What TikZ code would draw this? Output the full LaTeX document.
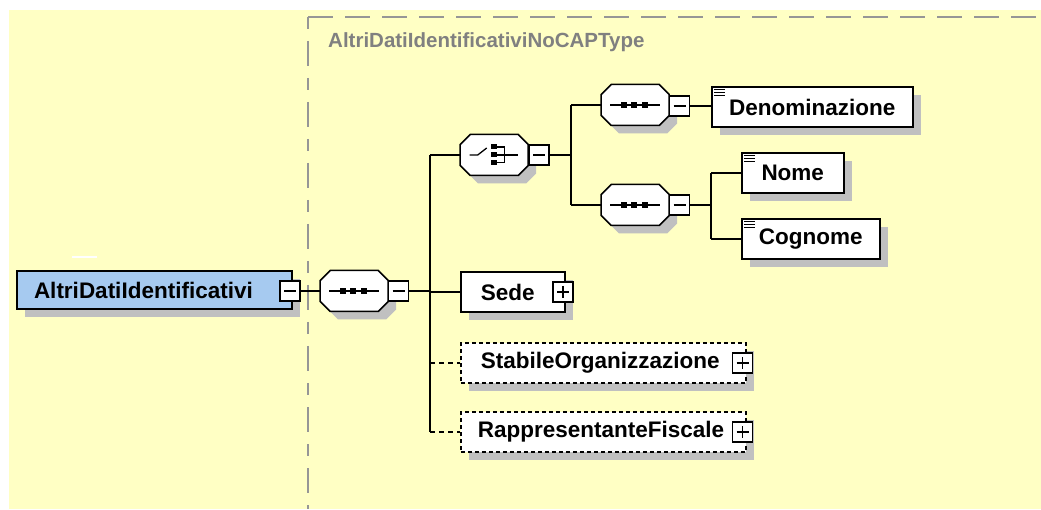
\documentclass[tikz,border=0pt]{standalone}
\usepackage{fontspec}
\setmainfont{Liberation Sans}
\usetikzlibrary{shadows}
\definecolor{bgyellow}{RGB}{255,255,196}
\definecolor{mainblue}{RGB}{166,202,240}
\definecolor{shadowgray}{RGB}{192,192,192}
\definecolor{framegray}{RGB}{150,150,150}
\definecolor{titlegray}{RGB}{128,128,128}
\tikzset{
  lbl/.style={font=\fontsize{22.5}{25}\selectfont\bfseries},
  shad/.style={general shadow={fill=shadowgray,shadow xshift=8pt,shadow yshift=-8pt}},
  elem/.style={draw=black,line width=1.5pt,fill=white,shad,rectangle,minimum height=40pt,inner sep=0pt,lbl,anchor=west},
  optelem/.style={elem,dash pattern=on 4pt off 3pt},
  leaficon/.style={path picture={
      \foreach \d in {2.5,5.5,8.5}
        \draw[line width=1pt] ([shift={(2.5pt,-\d pt)}]path picture bounding box.north west) -- ++(11pt,0pt);}},
  comp/.style={rectangle, draw=none, minimum width=68pt, minimum height=41pt, inner sep=0pt, anchor=west},
  pm/.style={draw=black,fill=white,line width=1.3pt,minimum size=20pt,inner sep=0pt,rectangle},
  minusbox/.style={pm, path picture={\draw[line width=1.3pt] ([xshift=4pt]path picture bounding box.west) -- ([xshift=-4pt]path picture bounding box.east);}},
  plusbox/.style={pm, path picture={
      \draw[line width=1.3pt] ([xshift=4pt]path picture bounding box.west) -- ([xshift=-4pt]path picture bounding box.east);
      \draw[line width=1.3pt] ([yshift=-4pt]path picture bounding box.north) -- ([yshift=4pt]path picture bounding box.south);}},
  conn/.style={line width=2pt},
  optconn/.style={conn, dash pattern=on 5pt off 4pt},
  octa/.pic={
    \fill[shadowgray] (-16,-12.5) -- (32,-12.5) -- (42,-2.5) -- (42,18.5) -- (32,28.5) -- (-16,28.5) -- (-26,18.5) -- (-26,-2.5) -- cycle;
    \draw[line width=1.5pt,fill=white] (-24,-20.5) -- (24,-20.5) -- (34,-10.5) -- (34,10.5) -- (24,20.5) -- (-24,20.5) -- (-34,10.5) -- (-34,-10.5) -- cycle;
  },
  seqicon/.pic={
    \draw[line width=1.3pt] (-25,0) -- (25,0);
    \foreach \sx in {-11,-1,10} \fill (\sx-2.75,-2.75) rectangle (\sx+2.75,2.75);
  },
  choiceicon/.pic={
    \draw[line width=1.3pt] (-24.5,0) -- (-16.5,0) -- (-7.5,-7);
    \foreach \sy in {-8,0,7.5} \fill (-2.75,\sy-2.5) rectangle (2.75,\sy+2.5);
    \draw[line width=1.3pt] (2.5,-8) -- (10.5,-8) -- (10.5,7.5) -- (2.5,7.5);
    \draw[line width=1.3pt] (2.5,0) -- (23.5,0);
  },
}
\begin{document}
\begin{tikzpicture}[x=1pt,y=-1pt]
\useasboundingbox (0,0) rectangle (1041,510);
\fill[bgyellow] (9,10) rectangle (1041,509);
% frame
\draw[framegray,line width=2pt,dash pattern=on 25pt off 12pt] (308,17) -- (1041,17);
\draw[framegray,line width=2pt,dash pattern=on 12pt off 12pt on 25pt off 12pt] (308,17) -- (308,509);
\node[anchor=base west,text=titlegray,font=\fontsize{20.5}{23}\selectfont\bfseries,inner sep=0pt] (title) at (328,48) {AltriDatiIdentificativiNoCAPType};
\draw[white,line width=1.2pt] (72,257) -- (97,257);

% main element
\node[elem,fill=mainblue,line width=2pt,minimum height=38pt,text width=241pt,inner xsep=17pt,align=left] (main) at (16,290) {AltriDatiIdentificativi};
\node[minusbox] (mainm) at (290,291) {};

% main sequence
\node[comp] (s0) at (320,291) {};
\pic at (s0.center) {octa};
\pic at (s0.center) {seqicon};
\node[minusbox] (s0m) at (398.5,291) {};

% choice
\node[comp] (ch) at (460,155) {};
\pic at (ch.center) {octa};
\pic at (ch.center) {choiceicon};
\node[minusbox] (chm) at (539,155) {};

% sequences inside choice
\node[comp] (s1) at (601,105) {};
\pic at (s1.center) {octa};
\pic at (s1.center) {seqicon};
\node[minusbox] (s1m) at (679.5,106) {};
\node[comp] (s2) at (601,205) {};
\pic at (s2.center) {octa};
\pic at (s2.center) {seqicon};
\node[minusbox] (s2m) at (679.5,205) {};

% leaf elements
\node[elem,leaficon,minimum width=201pt] (den) at (711,107) {Denominazione};
\node[elem,leaficon,minimum width=102pt] (nome) at (741,173) {Nome};
\node[elem,leaficon,minimum width=138pt] (cog) at (741,239) {Cognome};

% other children
\node[elem,text width=64pt,inner xsep=20pt,align=left] (sede) at (460,292) {Sede};
\node[plusbox] (sedep) at (563,292) {};
\node[optelem,text width=245pt,inner xsep=20pt,align=left] (stab) at (460,363) {StabileOrganizzazione};
\node[plusbox] (stabp) at (742.5,363) {};
\node[optelem,text width=251pt,inner xsep=17pt,align=left] (rapp) at (460,432) {RappresentanteFiscale};
\node[plusbox] (rappp) at (742.5,432) {};

% trunk coordinates
\coordinate (t0) at (430,0);
\coordinate (t1) at (571,0);
\coordinate (t2) at (711,0);

% connectors
\draw[conn] (mainm.east) -- (s0.west);
\draw[conn] (s0m.east) -- (s0m.east -| t0);
\draw[conn] (ch.west -| t0) -- (rapp.west -| t0);
\draw[conn] (ch.west -| t0) -- (ch.west);
\draw[conn] (sede.west -| t0) -- (sede.west);
\draw[optconn] (stab.west -| t0) -- (stab.west);
\draw[optconn] (rapp.west -| t0) -- (rapp.west);

\draw[conn] (chm.east) -- (chm.east -| t1);
\draw[conn] (s1.west -| t1) -- (s2.west -| t1);
\draw[conn] (s1.west -| t1) -- (s1.west);
\draw[conn] (s2.west -| t1) -- (s2.west);

\draw[conn] (s1m.east) -- (s1m.east -| den.west);
\draw[conn] (s2m.east) -- (s2m.east -| t2);
\draw[conn] (nome.west -| t2) -- (cog.west -| t2);
\draw[conn] (nome.west -| t2) -- (nome.west);
\draw[conn] (cog.west -| t2) -- (cog.west);
\end{tikzpicture}
\end{document}
